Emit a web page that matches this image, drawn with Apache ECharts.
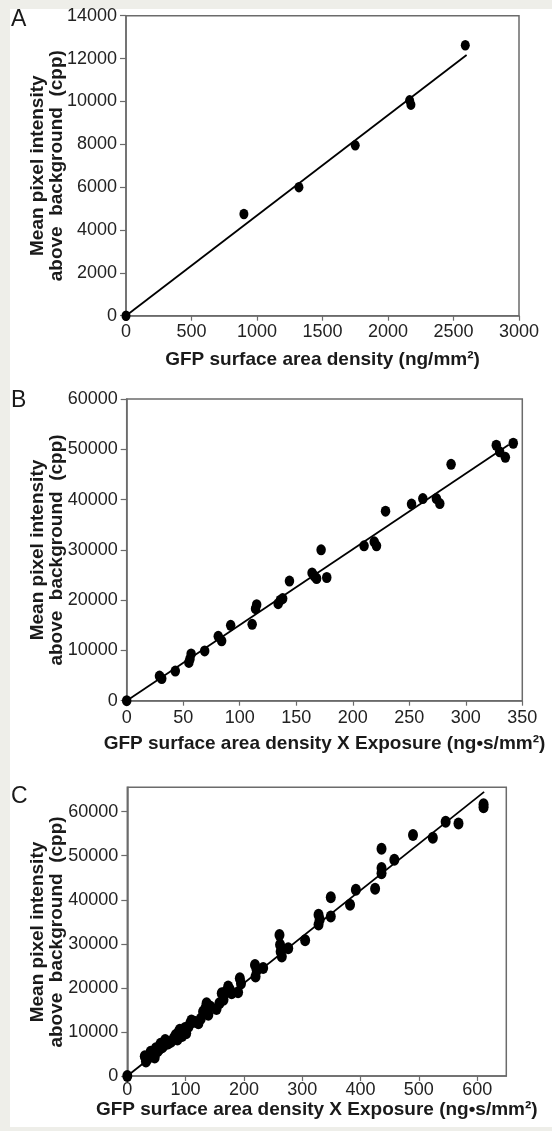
<!DOCTYPE html>
<html>
<head>
<meta charset="utf-8">
<script src="https://cdn.jsdelivr.net/npm/echarts@6/dist/echarts.min.js"></script>
<style>
html,body{margin:0;padding:0;background:#eeeee9;}
#c{width:552px;height:1131px;}
</style>
</head>
<body>
<div id="c"></div>
<script>
// ---------- Panel A ----------
var aX = [0, 900, 1320, 1750, 2165, 2175, 2590];
var aY = [0, 4750, 6000, 7950, 10050, 9850, 12620];
var aFitX = [0, 2600];
var aFitY = [0, 12170];
var aXTicks = [0, 500, 1000, 1500, 2000, 2500, 3000];
var aYTicks = [0, 2000, 4000, 6000, 8000, 10000, 12000, 14000];

// ---------- Panel B ----------
var bX = [0, 29, 31, 43, 55, 56, 57, 69, 81, 84, 92, 111, 114, 115, 134, 136, 138, 144,
          164, 166, 168, 172, 177, 210, 219, 221, 229, 252, 262, 274, 277, 287, 327, 330, 335, 342];
var bY = [0, 4900, 4400, 5900, 7600, 8300, 9300, 9900, 12800, 11900, 15000, 15200, 18300, 19100, 19300, 20000, 20300, 23800,
          25400, 24800, 24300, 30000, 24500, 30800, 31600, 30800, 37700, 39100, 40200, 40200, 39200, 47000, 50800, 49500, 48400, 51200];
var bFitX = [0, 338];
var bFitY = [0, 50900];
var bXTicks = [0, 50, 100, 150, 200, 250, 300, 350];
var bYTicks = [0, 10000, 20000, 30000, 40000, 50000, 60000];

// ---------- Panel C ----------
var cX = [0, 30, 32, 35, 39, 40, 44, 47, 49, 52, 55, 57, 60, 63, 65, 68, 70, 75, 80, 83, 86, 88, 90, 94, 96, 99, 101, 105, 108, 110,
          115, 122, 126, 130, 134, 136, 139, 142, 153, 158, 162, 165, 168, 173, 176, 179, 190, 193, 195,
          219, 220, 222, 233, 261, 262, 263, 265, 276, 305, 328, 328, 330, 349, 349, 382, 392, 425,
          436, 436, 436, 458, 490, 524, 546, 568, 611, 611];
var cY = [0, 4500, 3300, 3900, 4400, 5500, 5000, 4200, 6300, 5600, 6100, 7300, 6500, 7000, 8200, 7600, 7400, 7800, 8600, 9300, 8300, 10000, 10500, 9100, 10300, 10900, 9700, 11200, 12000, 12600,
          12300, 12000, 13000, 14600, 15400, 16500, 13900, 15800, 15200, 16500, 18800, 17300, 19000, 20300, 19600, 18800, 19000, 22200, 21000,
          25200, 22600, 24000, 24500, 32000, 29800, 28200, 27100, 29000, 30800, 36600, 34400, 35500, 40600, 36200, 38900, 42300, 42500,
          51600, 47200, 46000, 49100, 54700, 54100, 57700, 57300, 61700, 61000];
var cFitX = [0, 612];
var cFitY = [0, 64500];
var cXTicks = [0, 100, 200, 300, 400, 500, 600];
var cYTicks = [0, 10000, 20000, 30000, 40000, 50000, 60000];

var titles = {
  xA: 'GFP surface area density (ng/mm\u00B2)',
  xB: 'GFP surface area density X Exposure (ng\u2022s/mm\u00B2)',
  xC: 'GFP surface area density X Exposure (ng\u2022s/mm\u00B2)',
  y: 'Mean pixel intensity\nabove  background  (cpp)'
};

function pairs(xs, ys) { return xs.map(function (v, i) { return [v, ys[i]]; }); }

var FONT = '"Liberation Sans", Arial, Helvetica, sans-serif';
var AX = '#6b6b6b';

function xAxisCfg(idx, ticks, max, name, gap, margin) {
  var step = ticks[1] - ticks[0];
  return {
    type: 'value', gridIndex: idx, min: ticks[0], max: max, interval: step,
    axisLine: { show: true, lineStyle: { color: AX, width: 1.5 } },
    axisTick: { show: true, length: 5, lineStyle: { color: AX, width: 1.2 } },
    axisLabel: { fontSize: 18, color: '#222', fontFamily: FONT, margin: margin,
      showMaxLabel: ticks[ticks.length - 1] === max,
      formatter: function (v) { return ticks.indexOf(v) >= 0 ? String(v) : ''; } },
    splitLine: { show: false },
    name: name, nameLocation: 'middle', nameGap: gap,
    nameTextStyle: { fontSize: 19, fontWeight: 'bold', color: '#1a1a1a', fontFamily: FONT }
  };
}
function yAxisCfg(idx, ticks, max) {
  var step = ticks[1] - ticks[0];
  return {
    type: 'value', gridIndex: idx, min: ticks[0], max: max, interval: step,
    axisLine: { show: true, lineStyle: { color: AX, width: 1.5 } },
    axisTick: { show: true, length: 6, lineStyle: { color: AX, width: 1.2 } },
    axisLabel: { fontSize: 18, color: '#222', fontFamily: FONT, margin: 9,
      showMaxLabel: ticks[ticks.length - 1] === max,
      formatter: function (v) { return ticks.indexOf(v) >= 0 ? String(v) : ''; } },
    splitLine: { show: false }
  };
}
function gridCfg(l, t, w, h) {
  return { left: l, top: t, width: w, height: h, show: true, borderColor: AX, borderWidth: 1.5, backgroundColor: '#ffffff' };
}
function scatter(idx, xs, ys, size) {
  return { type: 'scatter', xAxisIndex: idx, yAxisIndex: idx, data: pairs(xs, ys),
    symbol: 'circle', symbolSize: size, itemStyle: { color: '#000', opacity: 1 }, z: 3, silent: true };
}
function fit(idx, xs, ys) {
  return { type: 'line', xAxisIndex: idx, yAxisIndex: idx, data: pairs(xs, ys), symbol: 'none',
    lineStyle: { color: '#000', width: 1.8 }, z: 4, silent: true };
}
function ytitle(cx, cy) {
  return { type: 'text', x: cx, y: cy, rotation: Math.PI / 2, silent: true,
    style: { text: titles.y, font: 'bold 19px ' + FONT, fill: '#1a1a1a', align: 'center', verticalAlign: 'middle',
      textAlign: 'center', textVerticalAlign: 'middle', lineHeight: 19 } };
}
function letter(t, x, y) {
  return { type: 'text', x: x, y: y, silent: true,
    style: { text: t, font: '23px ' + FONT, fill: '#1a1a1a', align: 'left', verticalAlign: 'top', textAlign: 'left', textVerticalAlign: 'top' } };
}

var chart = echarts.init(document.getElementById('c'), null, { renderer: 'canvas' });
chart.setOption({
  backgroundColor: '#eeeee9',
  animation: false,
  graphic: [
    { type: 'rect', z: -100, silent: true, shape: { x: 10, y: 9, width: 542, height: 1118 }, style: { fill: '#ffffff' } },
    letter('A', 11, 8), letter('B', 11, 389), letter('C', 11, 785),
    ytitle(47.5, 165.7), ytitle(47.5, 550), ytitle(47.5, 932)
  ],
  grid: [
    gridCfg(126, 15.7, 393, 300),
    gridCfg(126.7, 399, 395.6, 301.7),
    gridCfg(127.3, 787.3, 379, 288.7)
  ],
  xAxis: [
    xAxisCfg(0, aXTicks, 3000, titles.xA, 35, 7),
    xAxisCfg(1, bXTicks, 350, titles.xB, 34, 8),
    xAxisCfg(2, cXTicks, 650, titles.xC, 22, 5)
  ],
  yAxis: [
    yAxisCfg(0, aYTicks, 14000),
    yAxisCfg(1, bYTicks, 60000),
    yAxisCfg(2, cYTicks, 65536)
  ],
  series: [
    scatter(0, aX, aY, [9, 10.5]), fit(0, aFitX, aFitY),
    scatter(1, bX, bY, [9.5, 11]), fit(1, bFitX, bFitY),
    scatter(2, cX, cY, [10, 12]), fit(2, cFitX, cFitY)
  ]
});
</script>
</body>
</html>
